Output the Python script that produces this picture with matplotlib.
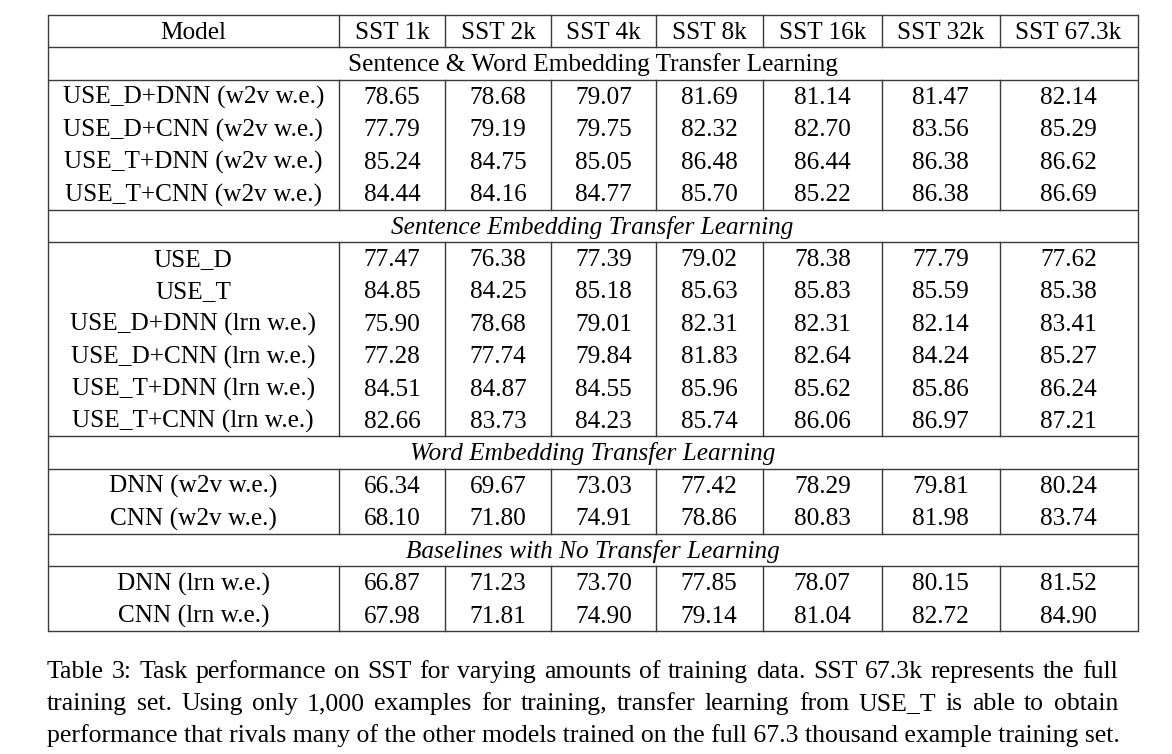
"""Table 3 of the USE transfer learning paper, drawn with matplotlib."""

import matplotlib
matplotlib.use("Agg")
import matplotlib.pyplot as plt

# table content
HEADER = ["Model", "SST 1k", "SST 2k", "SST 4k", "SST 8k", "SST 16k", "SST 32k", "SST 67.3k"]

SECTION_1 = "Sentence & Word Embedding Transfer Learning"
MODELS_1 = ["USE_D+DNN (w2v w.e.)", "USE_D+CNN (w2v w.e.)",
            "USE_T+DNN (w2v w.e.)", "USE_T+CNN (w2v w.e.)"]
SCORES_1 = [
    ["78.65", "78.68", "79.07", "81.69", "81.14", "81.47", "82.14"],
    ["77.79", "79.19", "79.75", "82.32", "82.70", "83.56", "85.29"],
    ["85.24", "84.75", "85.05", "86.48", "86.44", "86.38", "86.62"],
    ["84.44", "84.16", "84.77", "85.70", "85.22", "86.38", "86.69"],
]

SECTION_2 = "Sentence Embedding Transfer Learning"
MODELS_2 = ["USE_D", "USE_T", "USE_D+DNN (lrn w.e.)", "USE_D+CNN (lrn w.e.)",
            "USE_T+DNN (lrn w.e.)", "USE_T+CNN (lrn w.e.)"]
SCORES_2 = [
    ["77.47", "76.38", "77.39", "79.02", "78.38", "77.79", "77.62"],
    ["84.85", "84.25", "85.18", "85.63", "85.83", "85.59", "85.38"],
    ["75.90", "78.68", "79.01", "82.31", "82.31", "82.14", "83.41"],
    ["77.28", "77.74", "79.84", "81.83", "82.64", "84.24", "85.27"],
    ["84.51", "84.87", "84.55", "85.96", "85.62", "85.86", "86.24"],
    ["82.66", "83.73", "84.23", "85.74", "86.06", "86.97", "87.21"],
]

SECTION_3 = "Word Embedding Transfer Learning"
MODELS_3 = ["DNN (w2v w.e.)", "CNN (w2v w.e.)"]
SCORES_3 = [
    ["66.34", "69.67", "73.03", "77.42", "78.29", "79.81", "80.24"],
    ["68.10", "71.80", "74.91", "78.86", "80.83", "81.98", "83.74"],
]

SECTION_4 = "Baselines with No Transfer Learning"
MODELS_4 = ["DNN (lrn w.e.)", "CNN (lrn w.e.)"]
SCORES_4 = [
    ["66.87", "71.23", "73.70", "77.85", "78.07", "80.15", "81.52"],
    ["67.98", "71.81", "74.90", "79.14", "81.04", "82.72", "84.90"],
]

CAPTION_LINES = [
    "Table 3: Task performance on SST for varying amounts of training data.  SST 67.3k represents the full",
    "training set.  Using only 1,000 examples for training, transfer learning from USE_T is able to obtain",
    "performance that rivals many of the other models trained on the full 67.3 thousand example training set.",
]

# layout (pixels)
COL_EDGES = [47.5, 339, 445, 551, 656, 762.5, 882, 999.6, 1137.5]
TOP = 15.0
BOTTOM = 631.0
FONT = "Liberation Serif"
FS = 18.2
CAP_FS = 18.5
LINE_COLOR = "#3a3a3a"
LW = 1.0

sections = [
    (SECTION_1, "normal", MODELS_1, SCORES_1),
    (SECTION_2, "italic", MODELS_2, SCORES_2),
    (SECTION_3, "italic", MODELS_3, SCORES_3),
    (SECTION_4, "italic", MODELS_4, SCORES_4),
]
n_rows = 1 + sum(1 + len(m) for _, _, m, _ in sections)
row_h = (BOTTOM - TOP) / n_rows

fig = plt.figure(figsize=(11.72, 7.54), dpi=100)
ax = fig.add_axes([0, 0, 1, 1])
ax.set_xlim(0, 1172)
ax.set_ylim(754, 0)
ax.axis("off")

left, right = COL_EDGES[0], COL_EDGES[-1]
centers = [(a + b) / 2 for a, b in zip(COL_EDGES[:-1], COL_EDGES[1:])]


def hline(y):
    ax.plot([left, right], [y, y], color=LINE_COLOR, lw=LW, solid_capstyle="butt")


def vlines(y0, y1):
    for x in COL_EDGES[1:-1]:
        ax.plot([x, x], [y0, y1], color=LINE_COLOR, lw=LW)


def cell_text(x, row_top, s, style="normal"):
    ax.text(x, row_top + 0.74 * row_h, s, ha="center", va="baseline",
            fontsize=FS, family=FONT, style=style, color="black")


# outer frame
ax.plot([left, left], [TOP, BOTTOM], color=LINE_COLOR, lw=LW)
ax.plot([right, right], [TOP, BOTTOM], color=LINE_COLOR, lw=LW)
hline(TOP)

# header
y = TOP
for x, s in zip(centers, HEADER):
    cell_text(x, y, s)
vlines(y, y + row_h)
y += row_h
hline(y)

for title, style, models, scores in sections:
    cell_text((left + right) / 2, y, title, style)
    y += row_h
    hline(y)
    block_top = y
    for model, vals in zip(models, scores):
        cell_text(centers[0], y, model)
        for x, v in zip(centers[1:], vals):
            cell_text(x, y, v)
        y += row_h
    vlines(block_top, y)
    hline(y)

# caption, justified like the LaTeX original
renderer = fig.canvas.get_renderer()
cap_left, cap_right = 47.0, 1118.0
baselines = [678, 710, 742]
for i, line in enumerate(CAPTION_LINES):
    words = line.split()
    if i == len(CAPTION_LINES) - 1:
        ax.text(cap_left, baselines[i], " ".join(words), ha="left", va="baseline",
                fontsize=CAP_FS, family=FONT)
        continue
    items = [ax.text(0, baselines[i], w, ha="left", va="baseline",
                     fontsize=CAP_FS, family=FONT) for w in words]
    widths = [t.get_window_extent(renderer).width for t in items]
    gap = (cap_right - cap_left - sum(widths)) / (len(words) - 1)
    x = cap_left
    for t, w in zip(items, widths):
        t.set_x(x)
        x += w + gap

fig.savefig("out.png", dpi=100)
